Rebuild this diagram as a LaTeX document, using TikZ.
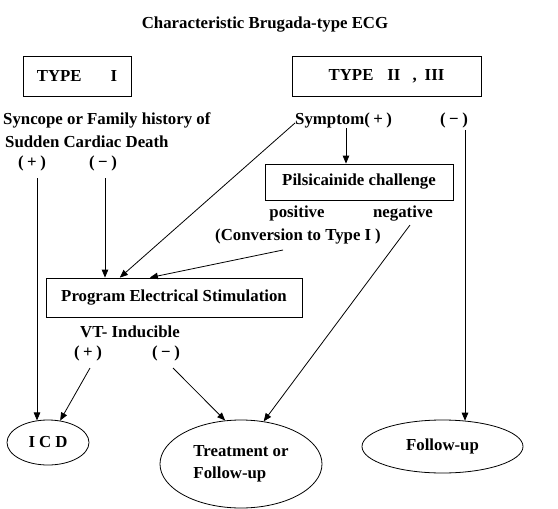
\documentclass[tikz,border=0pt]{standalone}
\usepackage{fontspec}
\setmainfont{Liberation Serif}
\usepackage{tikz}
\usetikzlibrary{arrows.meta,shapes.geometric,calc}
\newcommand{\signp}{(\kern3.5pt+\kern3.5pt)}
\newcommand{\signm}{(\kern3.5pt\char"2212\kern3.5pt)}
\tikzset{
  box/.style={draw,line width=0.8pt,inner sep=0pt},
  oval/.style={draw,ellipse,line width=0.8pt,inner sep=0pt,align=left},
  lbl/.style={inner sep=0pt},
  arr/.style={line width=0.8pt,-{Triangle[length=8pt,width=6.5pt]}}
}

\begin{document}
\begin{tikzpicture}[x=1pt,y=-1pt,font=\bfseries\fontsize{16.8}{22.5}\selectfont]
\useasboundingbox (0,0) rectangle (558,509);
\node[lbl,anchor=base] (title) at (265,28) {Characteristic Brugada-type ECG};
\node[box,minimum width=108pt,minimum height=40pt] (typeA) at (77,76) {TYPE\hspace{29pt}I};
\node[box,minimum width=189pt,minimum height=40pt] (typeB) at (386.5,76) {TYPE\hspace{14pt}II\hspace{12pt},\hspace{8pt}III};
\node[lbl,anchor=base west] (sync1) at (3,124) {Syncope or Family history of};
\node[lbl,anchor=base west] (sync2) at (5,147) {Sudden Cardiac Death};
\node[lbl] (plusA) at (32,163) {\signp};
\node[lbl] (minusA) at (103,163) {\signm};
\node[lbl,anchor=base west] (symp) at (295,124) {Symptom\signp};
\node[lbl,anchor=base] (minusB) at (454,124) {\signm};
\node[box,minimum width=188pt,minimum height=36pt] (pils) at (359,182) {Pilsicainide challenge};
\node[lbl,anchor=base] (pos) at (297,217) {positive};
\node[lbl,anchor=base] (neg) at (403,217) {negative};
\node[lbl,anchor=base] (conv) at (298,240) {(Conversion to Type I\kern4pt)};
\node[box,minimum width=256pt,minimum height=39pt] (prog) at (174,297.5) {Program Electrical Stimulation};
\node[lbl,anchor=base] (vt) at (130,337) {VT- Inducible};
\node[lbl] (plusC) at (88,353) {\signp};
\node[lbl] (minusC) at (166,353) {\signm};
\node[oval,minimum width=82pt,minimum height=45pt] (icd) at (48,442.5) {I\kern4pt C\kern4pt D};
\node[oval,minimum width=162pt,minimum height=88pt] (treat) at (241,464) {Treatment or\\Follow-up};
\node[oval,minimum width=161pt,minimum height=53pt] (fup) at (442.5,446.5) {Follow-up};
\coordinate (a1) at (37,178);
\coordinate (a2) at (105,178);
\coordinate (b1) at (346,128);
\coordinate (b2) at (295,123);
\coordinate (b3) at (465,130);
\coordinate (c1) at (283,250);
\coordinate (c2) at (410,225);
\coordinate (d1) at (90,368);
\coordinate (d2) at (173,368);
\draw[arr] (a1) -- (a1 |- icd.117);
\draw[arr] (a2) -- (a2 |- prog.north);
\draw[arr] (b1) -- (b1 |- pils.north);
\draw[arr] (b2) -- ($(prog.north west)!0.289!(prog.north east)$);
\draw[arr] (b3) -- (b3 |- fup.48);
\draw[arr] (c1) -- ($(prog.north west)!0.406!(prog.north east)$);
\draw[arr] (c2) -- (treat.62);
\draw[arr] (d1) -- (icd.61);
\draw[arr] (d2) -- (treat.110);
\end{tikzpicture}
\end{document}
